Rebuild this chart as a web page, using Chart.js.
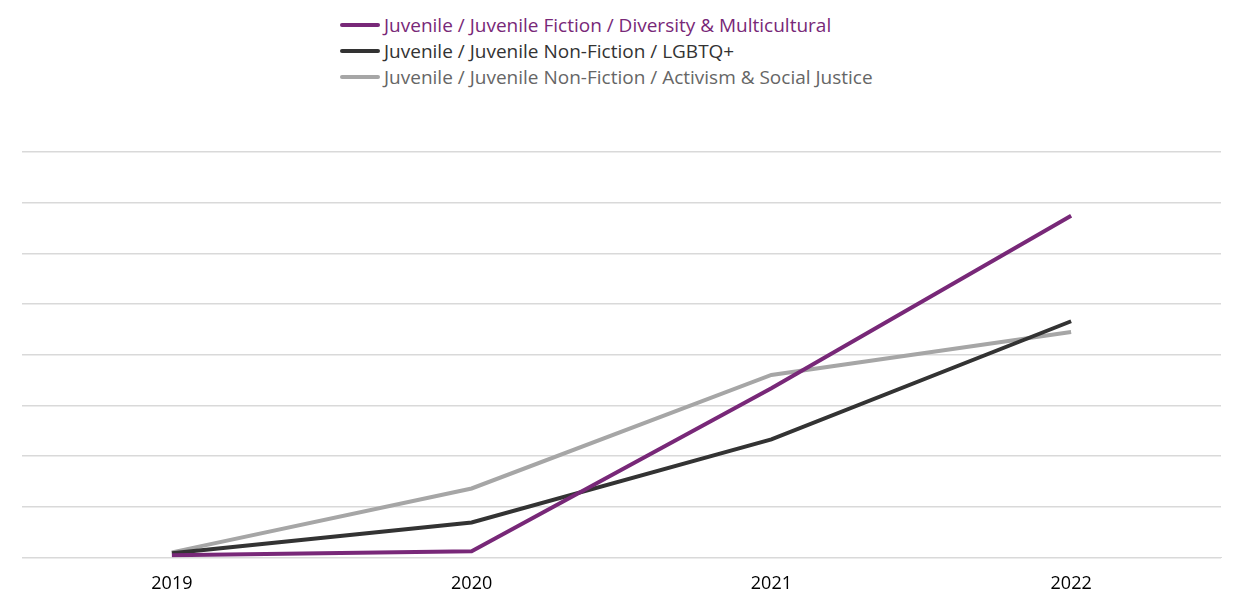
<!DOCTYPE html>
<html>
<head>
<meta charset="utf-8">
<script src="https://cdn.jsdelivr.net/npm/chart.js@4"></script>
<style>
  body { margin: 0; background: #fff; font-family: "Open Sans", sans-serif; }
  #legend { height: 100px; display: flex; flex-direction: column; align-items: flex-start; padding: 12px 0 0 340px; box-sizing: border-box; }
  .item { display: flex; align-items: center; height: 26px; font-size: 19px; }
  .item span.mark { display: inline-block; width: 40px; height: 4px; margin-right: 4px; border-radius: 2px; }
  #wrap { position: relative; width: 1243px; height: 514px; }
</style>
</head>
<body>
<div id="legend"></div>
<div id="wrap"><canvas id="chart"></canvas></div>
<script>
const years = ['2019', '2020', '2021', '2022'];
const diversity = [0.04, 0.12, 3.34, 6.74];
const lgbtq = [0.08, 0.69, 2.33, 4.66];
const activism = [0.1, 1.36, 3.6, 4.45];

const series = [
    { label: 'Juvenile / Juvenile Fiction / Diversity & Multicultural', data: diversity, color: '#782878', text: '#782878' },
    { label: 'Juvenile / Juvenile Non-Fiction / LGBTQ+', data: lgbtq, color: '#333333', text: '#333333' },
    { label: 'Juvenile / Juvenile Non-Fiction / Activism & Social Justice', data: activism, color: '#a6a6a6', text: '#666666' }
];

const legend = document.getElementById('legend');
series.forEach(s => {
    const row = document.createElement('div');
    row.className = 'item';
    row.innerHTML = '<span class="mark" style="background:' + s.color + '"></span><span style="color:' + s.text + '">' + s.label + '</span>';
    legend.appendChild(row);
});

new Chart(document.getElementById('chart'), {
    type: 'line',
    data: {
        labels: years,
        datasets: series.map(s => ({
            label: s.label,
            data: s.data,
            borderColor: s.color,
            borderWidth: 4,
            pointRadius: 0,
            tension: 0
        }))
    },
    options: {
        responsive: true,
        maintainAspectRatio: false,
        animation: false,
        layout: { padding: { top: 52, left: 22, right: 22, bottom: 11 } },
        plugins: { legend: { display: false }, tooltip: { enabled: false } },
        scales: {
            x: {
                offset: true,
                grid: { display: false },
                border: { display: true, color: '#d9d9d9' },
                ticks: { color: '#000', font: { family: 'Open Sans', size: 18 }, padding: 8 }
            },
            y: {
                min: 0, max: 8,
                ticks: { display: false, stepSize: 1 },
                grid: { color: '#d9d9d9', lineWidth: 1.5, drawTicks: false },
                border: { display: false }
            }
        }
    }
});
</script>
</body>
</html>
